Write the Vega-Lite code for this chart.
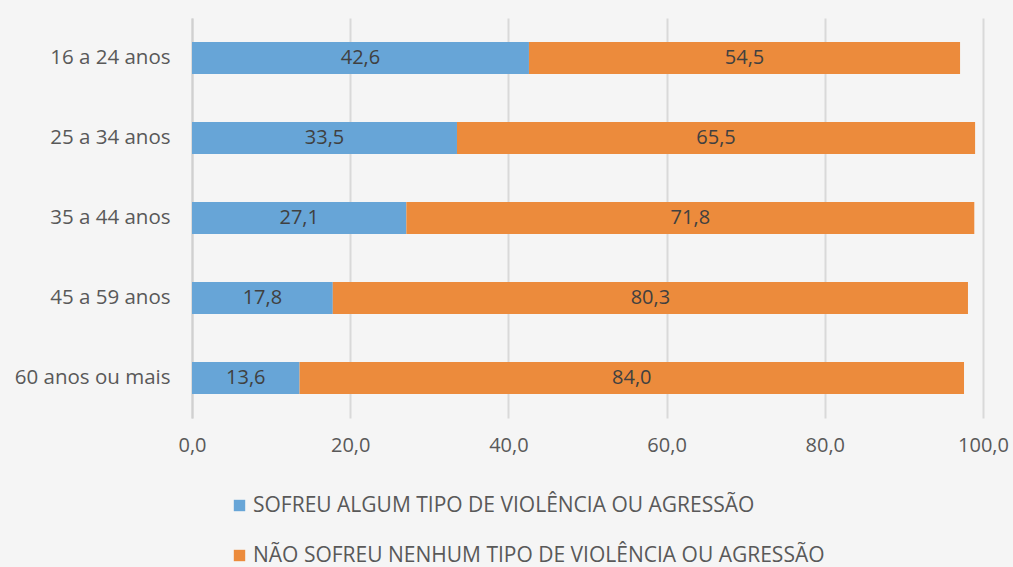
{
  "$schema": "https://vega.github.io/schema/vega-lite/v6.json",
  "width": 791,
  "height": 400,
  "autosize": "none",
  "padding": {"left": 192, "top": 18, "right": 30, "bottom": 149},
  "background": "#f5f5f5",
  "config": {
    "view": {"stroke": null},
    "font": "Open Sans",
    "locale": {"number": {"decimal": ",", "thousands": ".", "grouping": [3], "currency": ["R$", ""]}}
  },
  "data": {
    "values": [
      {"faixa": "16 a 24 anos", "grupo": "SOFREU ALGUM TIPO DE VIOLÊNCIA OU AGRESSÃO", "ord": 1, "valor": 42.6},
      {"faixa": "16 a 24 anos", "grupo": "NÃO SOFREU NENHUM TIPO DE VIOLÊNCIA OU AGRESSÃO", "ord": 2, "valor": 54.5},
      {"faixa": "25 a 34 anos", "grupo": "SOFREU ALGUM TIPO DE VIOLÊNCIA OU AGRESSÃO", "ord": 1, "valor": 33.5},
      {"faixa": "25 a 34 anos", "grupo": "NÃO SOFREU NENHUM TIPO DE VIOLÊNCIA OU AGRESSÃO", "ord": 2, "valor": 65.5},
      {"faixa": "35 a 44 anos", "grupo": "SOFREU ALGUM TIPO DE VIOLÊNCIA OU AGRESSÃO", "ord": 1, "valor": 27.1},
      {"faixa": "35 a 44 anos", "grupo": "NÃO SOFREU NENHUM TIPO DE VIOLÊNCIA OU AGRESSÃO", "ord": 2, "valor": 71.8},
      {"faixa": "45 a 59 anos", "grupo": "SOFREU ALGUM TIPO DE VIOLÊNCIA OU AGRESSÃO", "ord": 1, "valor": 17.8},
      {"faixa": "45 a 59 anos", "grupo": "NÃO SOFREU NENHUM TIPO DE VIOLÊNCIA OU AGRESSÃO", "ord": 2, "valor": 80.3},
      {"faixa": "60 anos ou mais", "grupo": "SOFREU ALGUM TIPO DE VIOLÊNCIA OU AGRESSÃO", "ord": 1, "valor": 13.6},
      {"faixa": "60 anos ou mais", "grupo": "NÃO SOFREU NENHUM TIPO DE VIOLÊNCIA OU AGRESSÃO", "ord": 2, "valor": 84.0}
    ]
  },
  "encoding": {
    "y": {
      "field": "faixa", "type": "nominal", "sort": null, "title": null,
      "scale": {"paddingInner": 0.6, "paddingOuter": 0.3},
      "axis": {"ticks": false, "domainColor": "#d0d0d0", "domainWidth": 2, "labelFontSize": 20.5, "labelColor": "#595959", "labelPadding": 22}
    },
    "x": {
      "field": "valor", "type": "quantitative", "stack": "zero", "title": null,
      "scale": {"domain": [0, 100], "nice": false},
      "axis": {"values": [0, 20, 40, 60, 80, 100], "format": ".1f", "domain": false, "ticks": false, "grid": true, "gridColor": "#d9d9d9", "gridWidth": 2, "labelFontSize": 20, "labelColor": "#595959", "labelPadding": 17, "labelFlush": false}
    },
    "order": {"field": "ord", "type": "quantitative"}
  },
  "layer": [
    {
      "mark": {"type": "bar"},
      "encoding": {
        "color": {
          "field": "grupo", "type": "nominal", "title": null,
          "scale": {"domain": ["SOFREU ALGUM TIPO DE VIOLÊNCIA OU AGRESSÃO", "NÃO SOFREU NENHUM TIPO DE VIOLÊNCIA OU AGRESSÃO"], "range": ["#67a5d7", "#ec8b3c"]},
          "legend": {"orient": "none", "legendX": 37, "legendY": 477, "direction": "vertical", "symbolType": "square", "symbolSize": 130, "symbolStrokeWidth": 0, "labelFontSize": 21, "labelColor": "#595959", "labelOffset": 3, "rowPadding": 28, "padding": 0, "labelLimit": 800}
        }
      }
    },
    {
      "mark": {"type": "text", "fontSize": 20, "color": "#404040"},
      "encoding": {
        "x": {"field": "valor", "type": "quantitative", "stack": "zero", "bandPosition": 0.5},
        "text": {"field": "valor", "type": "quantitative", "format": ".1f"}
      }
    }
  ]
}
